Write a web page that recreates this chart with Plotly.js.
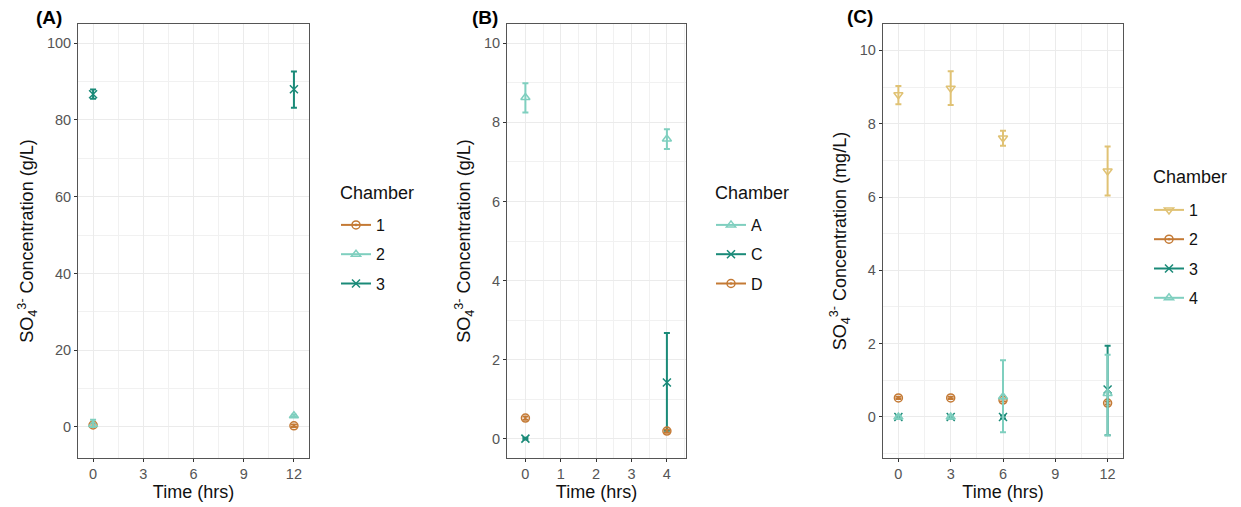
<!DOCTYPE html>
<html>
<head>
<meta charset="utf-8">
<script src="https://cdn.plot.ly/plotly-3.0.1.min.js"></script>
<style>html,body{margin:0;padding:0;background:#fff;}#chart{width:1241px;height:507px;}</style>
</head>
<body>
<div id="chart"></div>
<script>
// ---------- Data ----------
// Panel A (g/L)
const timeA = [0, 12];
const chambersA = ["1", "2", "3"];
const valuesA = {
  "1": [0.5, 0.3],
  "2": [0.6, 2.9],
  "3": [86.7, 88.0]
};
const errUpA = {
  "1": [0.4, 0.3],
  "2": [1.3, 0.3],
  "3": [1.2, 4.6]
};
const errDownA = {
  "1": [0.4, 0.3],
  "2": [0.6, 0.3],
  "3": [1.2, 4.8]
};

// Panel B (g/L)
const timeB = [0, 4];
const chambersB = ["A", "C", "D"];
const valuesB = {
  "A": [8.63, 7.58],
  "C": [0.0, 1.42],
  "D": [0.52, 0.19]
};
const errUpB = {
  "A": [0.36, 0.25],
  "C": [0.02, 1.25],
  "D": [0.04, 0.04]
};
const errDownB = {
  "A": [0.38, 0.25],
  "C": [0.02, 1.22],
  "D": [0.04, 0.04]
};

// Panel C (mg/L)
const timeC = [0, 3, 6, 12];
const chambersC = ["1", "2", "3", "4"];
const valuesC = {
  "1": [8.79, 8.97, 7.61, 6.71],
  "2": [0.52, 0.52, 0.46, 0.38],
  "3": [0.0, 0.0, 0.0, 0.75],
  "4": [0.0, 0.0, 0.55, 0.64]
};
const errUpC = {
  "1": [0.24, 0.46, 0.20, 0.67],
  "2": [0.03, 0.03, 0.04, 0.04],
  "3": [0.04, 0.04, 0.04, 1.19],
  "4": [0.04, 0.04, 1.00, 1.06]
};
const errDownC = {
  "1": [0.26, 0.46, 0.21, 0.67],
  "2": [0.03, 0.03, 0.04, 0.04],
  "3": [0.04, 0.04, 0.04, 1.25],
  "4": [0.04, 0.04, 0.97, 1.14]
};

const legendTitle = "Chamber";
const xTitle = "Time (hrs)";

// ---------- Styles ----------
const ORANGE = "#c47a35", LTEAL = "#7fcfbf", DTEAL = "#1a8a78", GOLD = "#e0c274";
const styleA = {
  "1": {color: ORANGE, symbol: "circle-open-dot"},
  "2": {color: LTEAL, symbol: "triangle-up-open"},
  "3": {color: DTEAL, symbol: "x-thin-open"}
};
const styleB = {
  "A": {color: LTEAL, symbol: "triangle-up-open"},
  "C": {color: DTEAL, symbol: "x-thin-open"},
  "D": {color: ORANGE, symbol: "circle-open-dot"}
};
const styleC = {
  "1": {color: GOLD, symbol: "triangle-down-open"},
  "2": {color: ORANGE, symbol: "circle-open-dot"},
  "3": {color: DTEAL, symbol: "x-thin-open"},
  "4": {color: LTEAL, symbol: "triangle-up-open"}
};

const traces = [];
function addPanel(times, names, vals, up, down, styles, xa, ya, legendId, tag) {
  names.forEach(function (name) {
    const st = styles[name];
    times.forEach(function (t, i) {
      traces.push({
        type: "scatter",
        mode: "lines+markers",
        x: [t],
        y: [vals[name][i]],
        name: name,
        legendgroup: tag + name,
        showlegend: i === 0,
        legend: legendId,
        xaxis: xa,
        yaxis: ya,
        line: {color: st.color, width: 2},
        marker: {symbol: st.symbol, size: 8, color: st.color, line: {color: st.color, width: 1.5}},
        error_y: {type: "data", symmetric: false, array: [up[name][i]], arrayminus: [down[name][i]],
                  color: st.color, thickness: 2, width: 3},
        hoverinfo: "x+y+name"
      });
    });
  });
}
addPanel(timeA, chambersA, valuesA, errUpA, errDownA, styleA, "x", "y", "legend", "A");
addPanel(timeB, chambersB, valuesB, errUpB, errDownB, styleB, "x2", "y2", "legend2", "B");
addPanel(timeC, chambersC, valuesC, errUpC, errDownC, styleC, "x3", "y3", "legend3", "C");

const W = 1241, H = 507;
const FONT = "Liberation Sans, Arial, sans-serif";
const yTop = 1 - 24 / H, yBot = 1 - 458 / H;

function xax(d0, d1, range, dtick, minor, anchor) {
  return {
    domain: [d0 / W, d1 / W], range: range, dtick: dtick, tick0: 0, anchor: anchor,
    showline: true, mirror: true, linecolor: "#555", linewidth: 1,
    ticks: "outside", ticklen: 3, tickcolor: "#333", tickwidth: 1,
    showgrid: true, gridcolor: "#ebebeb", gridwidth: 1, zeroline: false,
    minor: {dtick: minor, tick0: 0, showgrid: true, gridcolor: "#f1f1f1", gridwidth: 1, ticks: ""},
    tickfont: {family: FONT, size: 14.5, color: "#555"},
    title: {text: xTitle, font: {family: FONT, size: 18, color: "#111"}, standoff: 2},
    automargin: false, fixedrange: true
  };
}
function yax(range, dtick, minor, anchor, unit) {
  return {
    domain: [yBot, yTop], range: range, dtick: dtick, tick0: 0, anchor: anchor,
    showline: true, mirror: true, linecolor: "#555", linewidth: 1,
    ticks: "outside", ticklen: 3, tickcolor: "#333", tickwidth: 1,
    showgrid: true, gridcolor: "#ebebeb", gridwidth: 1, zeroline: false,
    minor: {dtick: minor, tick0: 0, showgrid: true, gridcolor: "#f1f1f1", gridwidth: 1, ticks: ""},
    tickfont: {family: FONT, size: 14.5, color: "#555"},
    title: {text: "SO<sub>4</sub><sup>3-</sup> Concentration (" + unit + ")", font: {family: FONT, size: 18, color: "#111"}, standoff: 8},
    automargin: false, fixedrange: true
  };
}
function leg(xpx, ytop) {
  return {
    x: xpx / W, y: 1 - ytop / H, xanchor: "left", yanchor: "top",
    font: {family: FONT, size: 16, color: "#111"},
    bgcolor: "rgba(0,0,0,0)", traceorder: "grouped", tracegroupgap: 5.5,
    itemwidth: 30, itemclick: false, itemdoubleclick: false
  };
}
function legTitle(xpx, ypx) {
  return {text: legendTitle, x: xpx / W, y: 1 - ypx / H, xref: "paper", yref: "paper",
          xanchor: "left", yanchor: "middle", showarrow: false,
          font: {family: FONT, size: 18, color: "#111"}};
}
function panelLabel(txt, xpx, ypx) {
  return {text: "<b>" + txt + "</b>", x: xpx / W, y: 1 - ypx / H, xref: "paper", yref: "paper",
          xanchor: "center", yanchor: "middle", showarrow: false,
          font: {family: FONT, size: 19, color: "#000"}};
}

const layout = {
  width: W, height: H,
  margin: {l: 0, r: 0, t: 0, b: 0},
  paper_bgcolor: "#fff", plot_bgcolor: "#fff",
  font: {family: FONT},
  xaxis: xax(78, 309, [-0.9, 12.9], 3, 1.5, "y"),
  yaxis: yax([-8.1, 105], 20, 10, "x", "g/L"),
  xaxis2: xax(507, 686, [-0.52, 4.54], 1, 0.5, "y2"),
  yaxis2: yax([-0.49, 10.49], 2, 1, "x2", "g/L"),
  xaxis3: xax(882.7, 1123.3, [-0.9, 12.9], 3, 1.5, "y3"),
  yaxis3: yax([-1.12, 10.72], 2, 1, "x3", "mg/L"),
  legend: leg(336, 208),
  legend2: leg(711, 208),
  legend3: leg(1149, 193),
  annotations: [
    panelLabel("(A)", 49, 18),
    panelLabel("(B)", 485, 18),
    panelLabel("(C)", 860, 17),
    legTitle(338, 193),
    legTitle(713, 193),
    legTitle(1151, 177)
  ],
  showlegend: true
};

Plotly.newPlot("chart", traces, layout, {staticPlot: true, displayModeBar: false});
</script>
</body>
</html>
